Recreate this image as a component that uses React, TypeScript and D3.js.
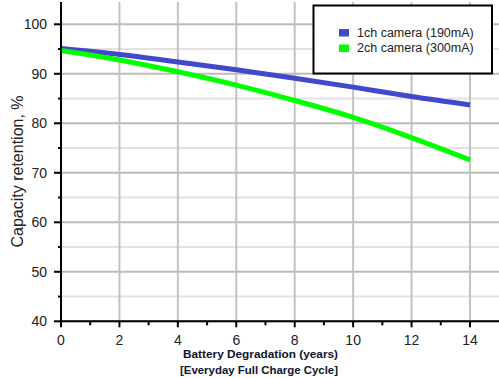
import React from "react";
import * as d3 from "d3";

const years = [0, 2, 4, 6, 8, 10, 12, 14];
const cam1 = [95.1, 93.9, 92.4, 90.8, 89.1, 87.3, 85.4, 83.7];
const cam2 = [94.7, 92.8, 90.4, 87.7, 84.6, 81.2, 77.1, 72.6];
const seriesNames = ["1ch camera (190mA)", "2ch camera (300mA)"];
const seriesColors = ["#4048cc", "#00ff00"];
const xTicks = [0, 2, 4, 6, 8, 10, 12, 14];
const xMinor = [1, 3, 5, 7, 9, 11, 13];
const yTicks = [40, 50, 60, 70, 80, 90, 100];
const yMinor = [45, 55, 65, 75, 85, 95];

const W = 499;
const H = 378;

export default function App() {
  const x = d3.scaleLinear().domain([0, 15]).range([61, 499.2]);
  const y = d3.scaleLinear().domain([40, 104.5]).range([321.3, 2]);
  const line = d3
    .line<number>()
    .x((_, i) => x(years[i]))
    .y((d) => y(d))
    .curve(d3.curveNatural);
  const series = [cam1, cam2];
  const font = "'Liberation Sans', Arial, sans-serif";
  return (
    <svg
      width={W}
      height={H}
      style={{ position: "absolute", left: 0, top: 0, background: "#fff" }}
    >
      {yMinor.map((v) => (
        <line key={"ym" + v} x1={x(0)} x2={W} y1={y(v)} y2={y(v)} stroke="#e3e1e1" strokeWidth={2} />
      ))}
      {yTicks.map((v) => (
        <line key={"yg" + v} x1={x(0)} x2={W} y1={y(v)} y2={y(v)} stroke="#bdbaba" strokeWidth={2} />
      ))}
      {xTicks.map((v) => (
        <line key={"xg" + v} x1={x(v)} x2={x(v)} y1={y(104.5)} y2={y(40)} stroke="#c4c1c1" strokeWidth={2} />
      ))}
      {series.map((s, i) => (
        <path key={"s" + i} d={line(s) || ""} fill="none" stroke={seriesColors[i]} strokeWidth={5} />
      ))}
      <line x1={x(0)} x2={x(0)} y1={y(104.5)} y2={y(40) + 1} stroke="#000" strokeWidth={2} />
      <line x1={x(0) - 1} x2={W} y1={y(40)} y2={y(40)} stroke="#000" strokeWidth={2} />
      {yTicks.map((v) => (
        <g key={"yt" + v}>
          <line x1={x(0) - 7} x2={x(0)} y1={y(v)} y2={y(v)} stroke="#000" strokeWidth={2} />
          <text x={x(0) - 14} y={y(v)} dy="0.36em" textAnchor="end" fontSize={14} fontFamily={font} fill="#222">
            {v}
          </text>
        </g>
      ))}
      {yMinor.map((v) => (
        <line key={"ymt" + v} x1={x(0) - 3} x2={x(0)} y1={y(v)} y2={y(v)} stroke="#000" strokeWidth={2} />
      ))}
      {xTicks.map((v) => (
        <g key={"xt" + v}>
          <line x1={x(v)} x2={x(v)} y1={y(40)} y2={y(40) + 6} stroke="#000" strokeWidth={2} />
          <text x={x(v)} y={344.5} textAnchor="middle" fontSize={14} fontFamily={font} fill="#222">
            {v}
          </text>
        </g>
      ))}
      {xMinor.map((v) => (
        <line key={"xmt" + v} x1={x(v)} x2={x(v)} y1={y(40)} y2={y(40) + 4} stroke="#000" strokeWidth={2} />
      ))}
      <text
        transform={`translate(23, 171.5) rotate(-90)`}
        textAnchor="middle"
        fontSize={16}
        fontFamily={font}
        fill="#222"
      >
        Capacity retention, %
      </text>
      <text x={183} y={358} fontSize={11.8} fontWeight="bold" fontFamily={font} fill="#0d1530" textLength={155} lengthAdjust="spacingAndGlyphs">
        Battery Degradation (years)
      </text>
      <text x={180} y={374} fontSize={11.8} fontWeight="bold" fontFamily={font} fill="#0d1530" textLength={158} lengthAdjust="spacingAndGlyphs">
        [Everyday Full Charge Cycle]
      </text>
      <rect x={313.5} y={5.5} width={178.5} height={68} fill="#fff" stroke="#000" strokeWidth={2} />
      {seriesNames.map((n, i) => (
        <g key={"lg" + i}>
          <rect x={339} y={29 + i * 15.5} width={10} height={7.5} fill={seriesColors[i]} />
          <text x={357} y={37 + i * 15} fontSize={12.5} fontFamily={font} fill="#222">
            {n}
          </text>
        </g>
      ))}
    </svg>
  );
}
